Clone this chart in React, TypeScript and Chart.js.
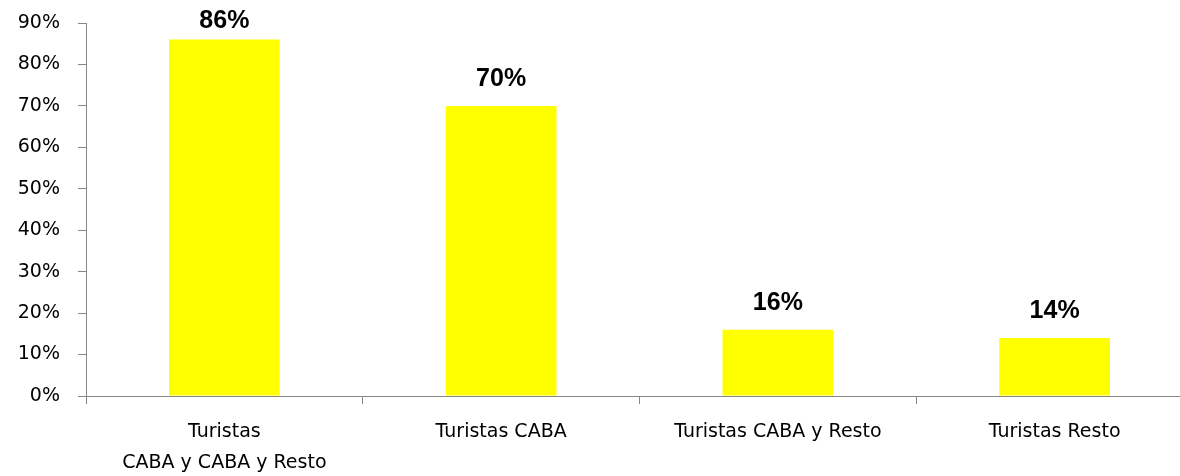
import React, { useEffect, useRef } from "react";
import { Chart, registerables } from "chart.js";

Chart.register(...registerables);

const categories: (string | string[])[] = [
  ["Turistas", "CABA y CABA y Resto"],
  "Turistas CABA",
  "Turistas CABA y Resto",
  "Turistas Resto",
];
const values: number[] = [86, 70, 16, 14];
const valueLabels: string[] = ["86%", "70%", "16%", "14%"];

const labelPlugin = {
  id: "barValueLabels",
  afterDatasetsDraw(chart: any) {
    const ctx = chart.ctx;
    const meta = chart.getDatasetMeta(0);
    ctx.save();
    ctx.font = "bold 25px 'Liberation Sans'";
    ctx.fillStyle = "#000";
    ctx.textAlign = "center";
    ctx.textBaseline = "alphabetic";
    meta.data.forEach((bar: any, i: number) => {
      const y = Math.max(bar.y - 20, 28);
      ctx.fillText(valueLabels[i], bar.x, y);
    });
    ctx.restore();
  },
};

export default function App() {
  const ref = useRef<HTMLCanvasElement | null>(null);
  useEffect(() => {
    if (!ref.current) return;
    const axisColor = "#868686";
    const chart = new Chart(ref.current, {
      type: "bar",
      data: {
        labels: categories,
        datasets: [
          {
            data: values,
            backgroundColor: "#FFFF00",
            borderWidth: 0,
            barPercentage: 0.4,
            categoryPercentage: 1,
          },
        ],
      },
      options: {
        animation: false,
        responsive: false,
        maintainAspectRatio: false,
        layout: { padding: { top: 23, right: 7, left: 0, bottom: 0 } },
        plugins: {
          legend: { display: false },
          tooltip: { enabled: false },
        },
        scales: {
          x: {
            grid: {
              offset: true,
              drawOnChartArea: false,
              drawTicks: true,
              tickLength: 8,
              color: axisColor,
            },
            border: { color: axisColor, width: 1 },
            ticks: {
              color: "#000",
              font: { family: "'DejaVu Sans'", size: 19, lineHeight: 1.63 },
              padding: 13,
              maxRotation: 0,
              autoSkip: false,
            },
            afterFit(scale: any) {
              scale.height = 80;
              scale.paddingLeft = 0;
              scale.paddingRight = 0;
            },
          },
          y: {
            min: 0,
            max: 90,
            ticks: {
              stepSize: 10,
              color: "#000",
              font: { family: "'DejaVu Sans'", size: 19 },
              padding: 18,
              callback: (v: any) => v + "%",
            },
            grid: {
              drawOnChartArea: false,
              drawTicks: true,
              tickLength: 8,
              color: axisColor,
            },
            border: { color: axisColor, width: 1 },
            afterFit(scale: any) {
              scale.width = 86;
              scale.paddingTop = 0;
              scale.paddingBottom = 0;
            },
          },
        },
      },
      plugins: [labelPlugin],
    });
    return () => chart.destroy();
  }, []);

  return (
    <div
      style={{
        position: "fixed",
        left: 0,
        top: 0,
        width: 1180,
        height: 476,
        overflow: "hidden",
        background: "#fff",
      }}
    >
      <canvas ref={ref} width={1200} height={476} style={{ display: "block", width: 1200, height: 476 }} />
    </div>
  );
}
